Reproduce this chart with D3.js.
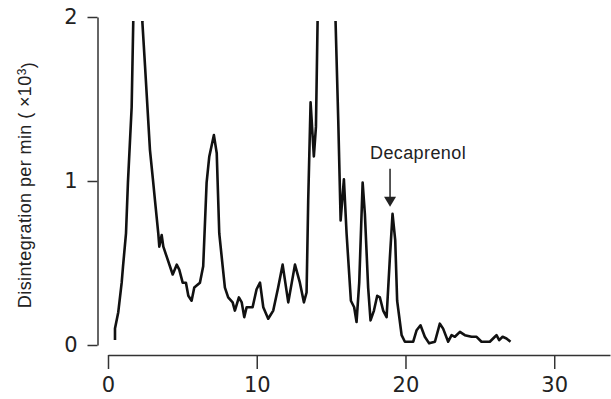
<!DOCTYPE html>
<html>
<head>
<meta charset="utf-8">
<script src="https://cdn.jsdelivr.net/npm/d3@7"></script>
<style>
  html, body { margin: 0; padding: 0; background: #fff; }
  svg { display: block; }
  text { font-family: "DejaVu Sans", "Liberation Sans", Arial, sans-serif; fill: #222; }
</style>
</head>
<body>
<svg id="chart" width="611" height="399"></svg>
<script>
// Elution time (min) and radioactivity (disintegrations per min, x10^3)
const times = [0.47, 0.47, 0.69, 0.92, 1.01, 1.21, 1.34, 1.59, 1.70, 1.78, 2.25, 2.31, 2.49, 2.82, 3.02, 3.16, 3.38, 3.45, 3.61, 3.72, 3.94, 4.35, 4.62, 4.79, 5.02, 5.24, 5.40, 5.62, 5.80, 6.18, 6.40, 6.63, 6.81, 7.12, 7.31, 7.48, 7.71, 7.86, 8.08, 8.38, 8.53, 8.80, 8.99, 9.16, 9.32, 9.72, 9.99, 10.22, 10.44, 10.77, 11.11, 11.44, 11.74, 12.12, 12.57, 12.90, 13.17, 13.35, 13.46, 13.62, 13.84, 13.98, 14.09, 14.20, 15.20, 15.30, 15.48, 15.64, 15.86, 16.04, 16.33, 16.55, 16.71, 16.89, 17.12, 17.27, 17.49, 17.65, 17.88, 18.10, 18.28, 18.50, 18.73, 18.95, 19.13, 19.31, 19.44, 19.74, 19.96, 20.52, 20.75, 21.01, 21.30, 21.59, 21.98, 22.31, 22.53, 22.87, 23.10, 23.32, 23.66, 23.99, 24.44, 24.78, 25.11, 25.67, 26.01, 26.12, 26.30, 26.53, 26.79, 27.06];
const dpm = [0.03, 0.10, 0.20, 0.38, 0.48, 0.68, 0.99, 1.45, 1.98, 2.40, 2.40, 1.97, 1.70, 1.19, 1.01, 0.88, 0.68, 0.60, 0.67, 0.60, 0.54, 0.43, 0.49, 0.46, 0.38, 0.38, 0.30, 0.27, 0.35, 0.38, 0.48, 0.99, 1.15, 1.28, 1.17, 0.68, 0.48, 0.35, 0.29, 0.26, 0.21, 0.29, 0.26, 0.17, 0.23, 0.23, 0.34, 0.38, 0.23, 0.16, 0.21, 0.35, 0.49, 0.26, 0.49, 0.38, 0.26, 0.32, 0.88, 1.48, 1.15, 1.33, 1.97, 2.40, 2.40, 1.97, 1.37, 0.76, 1.01, 0.68, 0.27, 0.23, 0.14, 0.38, 0.99, 0.80, 0.35, 0.15, 0.21, 0.30, 0.29, 0.21, 0.17, 0.53, 0.80, 0.64, 0.27, 0.06, 0.02, 0.02, 0.09, 0.12, 0.05, 0.01, 0.02, 0.13, 0.10, 0.02, 0.06, 0.05, 0.08, 0.06, 0.05, 0.05, 0.02, 0.02, 0.05, 0.06, 0.03, 0.05, 0.04, 0.02];
const xTicks = [0, 10, 20, 30];
const yTicks = [0, 1, 2];
const yLabel = "Disintegration per min ( \u00D710";
const yLabelSup = "3";
const annotation = { label: "Decaprenol", time: 19.13, value: 0.80 };

const svg = d3.select("#chart");
const x = d3.scaleLinear().domain([0, 33.75]).range([108, 610]);
const y = d3.scaleLinear().domain([0, 2]).range([345, 17]);

// Y axis
const yAxis = svg.append("g")
  .attr("transform", "translate(97.5,0)")
  .call(d3.axisLeft(y).tickValues(yTicks).tickFormat(d3.format("d")).tickSize(10).tickSizeOuter(0).tickPadding(10));
yAxis.select(".domain").attr("stroke", "#333").attr("stroke-width", 1.5);
yAxis.selectAll(".tick line").attr("stroke", "#333").attr("stroke-width", 1.5);
yAxis.selectAll(".tick text").style("font-size", "21px").attr("fill", "#222");

// X axis
const xAxis = svg.append("g")
  .attr("transform", "translate(0,355)")
  .call(d3.axisBottom(x).tickValues(xTicks).tickFormat(d3.format("d")).tickSize(14).tickSizeOuter(0).tickPadding(8));
xAxis.select(".domain").attr("stroke", "#333").attr("stroke-width", 1.5);
xAxis.selectAll(".tick line").attr("stroke", "#333").attr("stroke-width", 1.5);
xAxis.selectAll(".tick text").style("font-size", "21px").attr("fill", "#222");

// Y label
const yl = svg.append("text")
  .attr("transform", "translate(31,185) rotate(-90)")
  .attr("text-anchor", "middle")
  .style("font-family", "'Liberation Sans', Arial, sans-serif")
  .style("font-size", "18px")
  .style("letter-spacing", "0.4px");
yl.append("tspan").text(yLabel);
yl.append("tspan").text(yLabelSup).attr("dy", "-0.45em").style("font-size", "12px");
yl.append("tspan").text(")").attr("dy", "0.45em");

// Clip
svg.append("clipPath").attr("id", "clip")
  .append("rect").attr("x", 98).attr("y", y(2) + 4).attr("width", 520).attr("height", 340);

const pts = times.map((t, i) => [t, dpm[i]]);
const line = d3.line().x(d => x(d[0])).y(d => y(d[1]));
svg.append("path")
  .datum(pts)
  .attr("clip-path", "url(#clip)")
  .attr("d", line)
  .attr("fill", "none")
  .attr("stroke", "#111")
  .attr("stroke-width", 2.6)
  .attr("stroke-linejoin", "round");

// Annotation
const ax = x(annotation.time) - 2.5;
const aTip = y(annotation.value) - 7;
svg.append("line")
  .attr("x1", ax).attr("x2", ax)
  .attr("y1", aTip - 38).attr("y2", aTip - 8)
  .attr("stroke", "#222").attr("stroke-width", 1.5);
svg.append("path")
  .attr("d", `M${ax - 6},${aTip - 10} L${ax + 6},${aTip - 10} L${ax},${aTip} Z`)
  .attr("fill", "#222");
svg.append("text")
  .attr("x", ax + 28).attr("y", aTip - 48)
  .attr("text-anchor", "middle")
  .style("font-size", "18px")
  .style("letter-spacing", "0.4px")
  .style("font-family", "'Liberation Sans', Arial, sans-serif")
  .text(annotation.label);
</script>
</body>
</html>
